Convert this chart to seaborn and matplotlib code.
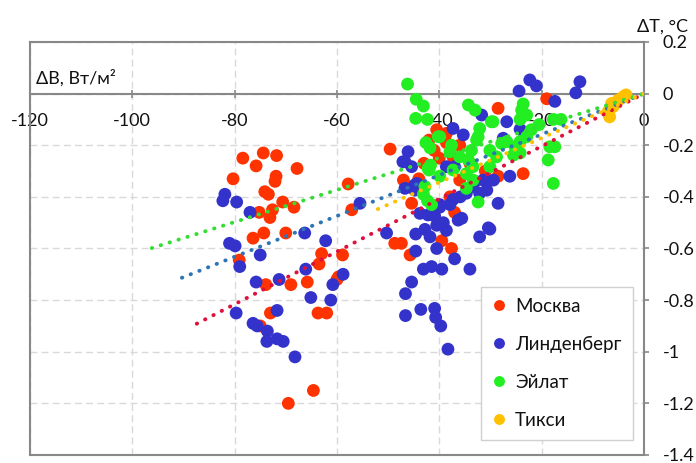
import numpy as np
import pandas as pd
import matplotlib
matplotlib.use("Agg")
import matplotlib.pyplot as plt
import seaborn as sns

# ---------------- data ----------------
stations = ["Москва", "Линденберг", "Эйлат", "Тикси"]
point_colors = ["#FF3300", "#3333CC", "#22EE22", "#FFC000"]
trend_colors = ["#E0103C", "#2E75B6", "#33DD33", "#FFC000"]

moscow_x = [-78.4, -74.4, -71.8, -75.8, -67.8, -80.3, -71.9, -72.1, -74.1, -73.4,
            -57.8, -70.6, -68.4, -75.2, -72.6, -73.1, -76.4, -74.3, -70.0, -79.1,
            -63.0, -58.9, -63.5, -59.7, -73.9, -69.0, -65.8, -73.0, -63.7, -62.0,
            -75.0, -64.6, -69.5, -60.0,
            -49.6, -57.1, -47.0, -45.4, -38.6, -37.9, -28.5, -19.0, -23.6, -38.6,
            -36.0, -28.5, -37.3, -48.7, -47.4, -45.7, -37.0, -39.5, -37.6, -42.0,
            -41.0, -40.0, -43.0, -39.0, -36.0, -34.0, -31.0, -44.0, -40.5, -43.5]
moscow_y = [-0.25, -0.23, -0.24, -0.28, -0.29, -0.33, -0.32, -0.34, -0.38, -0.39,
            -0.35, -0.42, -0.44, -0.46, -0.45, -0.48, -0.56, -0.54, -0.54, -0.645,
            -0.62, -0.625, -0.66, -0.71, -0.74, -0.74, -0.73, -0.85, -0.85, -0.85,
            -0.90, -1.15, -1.20, -0.72,
            -0.215, -0.45, -0.335, -0.425, -0.154, -0.40, -0.057, -0.02, -0.31, -0.19,
            -0.335, -0.32, -0.245, -0.58, -0.58, -0.625, -0.46, -0.57, -0.60, -0.18,
            -0.22, -0.25, -0.27, -0.16, -0.20, -0.27, -0.30, -0.33, -0.14, -0.37]

linden_x = [-81.9, -82.3, -79.6, -77.0, -66.3, -62.2, -81.0, -79.9, -75.0, -79.0,
            -58.8, -66.1, -75.8, -71.3, -79.7, -71.7, -76.4, -75.6, -73.6, -73.7,
            -71.7, -70.5, -68.2, -65.1, -61.2, -60.8, -55.5, -50.3,
            -46.1, -46.7, -45.4, -46.7, -44.8, -37.3, -38.6, -39.9, -43.8, -22.3,
            -21.0, -24.4, -17.4, -12.5, -13.3, -31.7, -26.8, -24.2, -27.5, -35.3,
            -26.2, -31.4, -33.4, -32.1, -44.6, -42.2, -40.9, -42.8, -41.8, -40.5,
            -39.2, -38.6, -36.3, -35.6, -30.4, -32.1, -40.5, -44.6, -37.0, -34.0,
            -43.1, -41.5, -39.5, -45.4, -46.6, -46.6, -43.6, -40.9, -40.7, -39.7,
            -38.3, -28.5, -30.1, -44.4, -43.5, -44.8, -39.9, -37.9, -37.3, -35.9,
            -34.7, -30.7, -33.0, -30.7, -29.4, -37.0, -47.1]
linden_y = [-0.39, -0.415, -0.42, -0.46, -0.54, -0.57, -0.58, -0.59, -0.625, -0.67,
            -0.70, -0.68, -0.73, -0.72, -0.85, -0.84, -0.89, -0.90, -0.92, -0.96,
            -0.95, -0.96, -1.02, -0.79, -0.80, -0.74, -0.425, -0.54,
            -0.225, -0.264, -0.283, -0.367, -0.354, -0.135, -0.283, -0.44, -0.464, 0.053,
            0.03, 0.01, -0.03, 0.046, 0.003, -0.083, -0.109, -0.138, -0.173, -0.16,
            -0.32, -0.335, -0.36, -0.386, -0.544, -0.47, -0.474, -0.526, -0.555, -0.51,
            -0.50, -0.53, -0.49, -0.483, -0.52, -0.555, -0.60, -0.61, -0.64, -0.68,
            -0.68, -0.67, -0.68, -0.73, -0.775, -0.86, -0.836, -0.832, -0.867, -0.90,
            -0.99, -0.425, -0.525, -0.348, -0.36, -0.374, -0.43, -0.43, -0.41, -0.40,
            -0.386, -0.374, -0.34, -0.34, -0.335, -0.283, -0.264]

eilat_x = [-46.2, -44.5, -43.1, -44.6, -34.3, -33.0, -23.6, -23.9, -22.9, -29.5,
           -32.1, -32.4, -39.9, -17.7, -18.4, -24.2, -29.8, -22.0, -22.9, -24.2,
           -25.2, -32.7, -33.7, -34.3, -30.1, -28.8, -30.1, -17.4, -18.7, -17.7,
           -26.8, -27.8, -24.2, -25.5, -36.0, -37.3, -34.7, -33.4, -33.4, -34.7,
           -42.3, -42.6, -41.8, -40.2, -37.6, -37.9, -42.0, -39.9, -42.8, -43.1,
           -42.3, -41.5, -41.7, -42.2, -32.4, -16.2, -20.5]
eilat_y = [0.037, -0.022, -0.048, -0.096, -0.044, -0.064, -0.04, -0.064, -0.083, -0.109,
           -0.135, -0.167, -0.167, -0.10, -0.206, -0.10, -0.109, -0.14, -0.167, -0.186,
           -0.206, -0.18, -0.22, -0.257, -0.22, -0.245, -0.283, -0.206, -0.257, -0.348,
           -0.186, -0.193, -0.23, -0.238, -0.245, -0.296, -0.31, -0.283, -0.335, -0.367,
           -0.10, -0.19, -0.21, -0.167, -0.20, -0.225, -0.296, -0.32, -0.36, -0.39,
           -0.415, -0.43, -0.277, -0.29, -0.42, -0.10, -0.12]

tiksi_x = [-4.0, -5.0, -6.3, -6.7, -7.0, -6.0, -3.5]
tiksi_y = [-0.012, -0.025, -0.038, -0.09, -0.07, -0.05, -0.005]

# linear trends through origin: slope and left end of each dotted line
trend_slope = [0.0102, 0.0079, 0.00622, 0.0086]
trend_start = [-87.4, -90.3, -96.2, -52.0]

x_ticks = [-120, -100, -80, -60, -40, -20, 0]
x_tick_labels = ["-120", "-100", "-80", "-60", "-40", "-20", "0"]
y_ticks = [0.2, 0.0, -0.2, -0.4, -0.6, -0.8, -1.0, -1.2, -1.4]
y_tick_labels = ["0.2", "0", "-0.2", "-0.4", "-0.6", "-0.8", "-1", "-1.2", "-1.4"]

x_label = "ΔB, Вт/м²"
y_label = "ΔT, °C"

# ---------------- figure ----------------
sns.set_theme(style="white")
plt.rcParams["font.family"] = ["Lato", "DejaVu Sans"]

df = pd.concat([
    pd.DataFrame({"dB": moscow_x, "dT": moscow_y, "station": stations[0]}),
    pd.DataFrame({"dB": linden_x, "dT": linden_y, "station": stations[1]}),
    pd.DataFrame({"dB": eilat_x, "dT": eilat_y, "station": stations[2]}),
    pd.DataFrame({"dB": tiksi_x, "dT": tiksi_y, "station": stations[3]}),
], ignore_index=True)

fig = plt.figure(figsize=(6.96, 4.63), dpi=100)
ax = fig.add_axes([0.0431, 0.0173, 0.882, 0.892])

sns.scatterplot(data=df, x="dB", y="dT", hue="station", hue_order=stations,
                palette=dict(zip(stations, point_colors)), s=85, linewidth=0,
                ax=ax, zorder=3)

for slope, start, col in zip(trend_slope, trend_start, trend_colors):
    xs = np.array([start, 0.0])
    ax.plot(xs, slope * xs, color=col, lw=2.8, linestyle=(0, (0.1, 2.3)),
            dash_capstyle="round", zorder=4)

ax.set_xlim(-120, 0)
ax.set_ylim(-1.4, 0.2)
ax.set_xticks(x_ticks)
ax.set_xticklabels(x_tick_labels)
ax.set_yticks(y_ticks)
ax.set_yticklabels(y_tick_labels)
ax.set_xlabel("")
ax.set_ylabel("")

frame_col = "#888888"
ax.grid(True, color="#D9D9D9", linestyle=(0, (5, 3)), lw=1.0, zorder=0)
ax.set_axisbelow(True)

for side in ["top", "left", "right", "bottom"]:
    ax.spines[side].set_visible(True)
    ax.spines[side].set_color(frame_col)
    ax.spines[side].set_linewidth(1.5)
ax.spines["bottom"].set_position(("data", 0))
ax.plot([0, 1], [0, 0], transform=ax.transAxes, color=frame_col, lw=1.5,
        clip_on=False, zorder=5)

ax.yaxis.tick_right()
ax.tick_params(axis="x", direction="inout", length=6, width=1.2, color=frame_col,
               pad=11, labelsize=13, labelcolor="#111111", bottom=True)
ax.tick_params(axis="y", direction="out", length=3.5, width=1.2, color=frame_col,
               pad=10, labelsize=13, labelcolor="#111111", right=True, left=False)

ax.text(0.01, 0.913, x_label, transform=ax.transAxes, fontsize=13,
        color="#111111", ha="left", va="center")
ax.text(1.0717, 1.037, y_label, transform=ax.transAxes, fontsize=13,
        color="#111111", ha="right", va="center", clip_on=False)

sns.move_legend(ax, "lower right", bbox_to_anchor=(0.982, 0.036), title=None,
                frameon=True, fontsize=13.5, markerscale=0.85, handlelength=0.8,
                handletextpad=0.45, labelspacing=1.12, borderpad=0.6,
                borderaxespad=0, fancybox=False, edgecolor="#D0D0D0",
                framealpha=1)
leg = ax.get_legend()
for t in leg.get_texts():
    t.set_color("#111111")

fig.savefig("out.png", dpi=100)
